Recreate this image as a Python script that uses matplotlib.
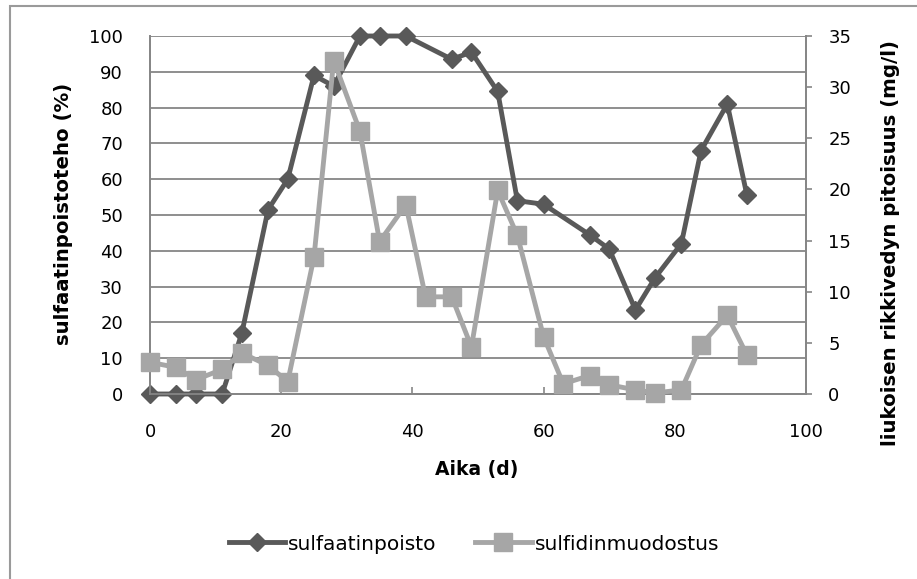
import matplotlib
matplotlib.use("Agg")
import matplotlib.pyplot as plt
from matplotlib.patches import Rectangle

# sulfaatinpoisto (%), vasen akseli
days_s = [0, 4, 7, 11, 14, 18, 21, 25, 28, 32, 35, 39, 46, 49, 53, 56, 60, 67, 70, 74, 77, 81, 84, 88, 91]
removal = [0, 0, 0, 0, 17, 51.5, 60, 89, 86, 100, 100, 100, 93.5, 95.5, 84.5, 54, 53, 44.5, 40.5,
           23.5, 32.5, 42, 68, 81, 55.5]

# sulfidinmuodostus (mg/l), oikea akseli
days_h = [0, 4, 7, 11, 14, 18, 21, 25, 28, 32, 35, 39, 42, 46, 49, 53, 56, 60, 63, 67, 70, 74, 77,
          81, 84, 88, 91]
h2s = [3.1, 2.6, 1.4, 2.4, 4.0, 2.8, 1.2, 13.4, 32.6, 25.7, 14.9, 18.5, 9.5, 9.5, 4.6, 19.9, 15.5,
       5.6, 1.0, 1.8, 0.9, 0.4, 0.1, 0.4, 4.8, 7.7, 3.8]

x_ticks = [0, 20, 40, 60, 80, 100]
left_ticks = list(range(0, 101, 10))
right_ticks = list(range(0, 36, 5))

dark = '#595959'
light = '#a6a6a6'
grid = '#868686'
W, H = 917, 579

fig = plt.figure(figsize=(W / 100, H / 100), dpi=100)
ax = fig.add_axes([150 / W, 1 - 394 / H, 656 / W, 358 / H])
ax2 = ax.twinx()

l1, = ax.plot(days_s, removal, color=dark, lw=3.5, marker='D', ms=9.5, mew=1,
              mec=dark, mfc=dark, clip_on=False, zorder=3, label='sulfaatinpoisto')
l2, = ax2.plot(days_h, h2s, color=light, lw=3.5, marker='s', ms=13, mew=1,
               mec=light, mfc=light, clip_on=False, zorder=3, label='sulfidinmuodostus')

ax.set_xlim(0, 100)
ax.set_ylim(0, 100)
ax2.set_ylim(0, 35)
ax.set_xticks(x_ticks)
ax.set_yticks(left_ticks)
ax2.set_yticks(right_ticks)

ax.yaxis.grid(True, color=grid, lw=1.3)
ax.set_axisbelow(True)

for a in (ax, ax2):
    a.spines['top'].set_visible(False)
    for s in ('left', 'bottom', 'right'):
        a.spines[s].set_color(grid)
        a.spines[s].set_linewidth(1.3)

ax.tick_params(axis='x', direction='in', length=5, width=1.2, color=grid, pad=21, labelsize=13)
ax.tick_params(axis='y', length=0, pad=19.5, labelsize=13)
ax2.tick_params(axis='y', direction='out', length=4, width=1.2, color=grid, pad=12, labelsize=13)

fig.text(64 / W, 1 - 214 / H, 'sulfaatinpoistoteho (%)', rotation=90, ha='center', va='center',
         fontsize=14.2, fontweight='bold')
fig.text(890 / W, 1 - 243 / H, 'liukoisen rikkivedyn pitoisuus (mg/l)', rotation=90, ha='center',
         va='center', fontsize=14.2, fontweight='bold')
fig.text(477 / W, 1 - 470 / H, 'Aika (d)', ha='center', va='center', fontsize=13.5, fontweight='bold')

fig.legend(handles=[l1, l2], loc='center', bbox_to_anchor=(474 / W, 1 - 544 / H), ncol=2,
           frameon=False, fontsize=14.5, handlelength=2.8, handletextpad=0.15, columnspacing=1.9)

# kaavion reunus
fig.add_artist(Rectangle((10 / W, -0.1), 1.2, 1.1 - 6 / H, transform=fig.transFigure,
                         fill=False, edgecolor='#9a9a9a', lw=1.5))

fig.savefig('out.png', dpi=100)
